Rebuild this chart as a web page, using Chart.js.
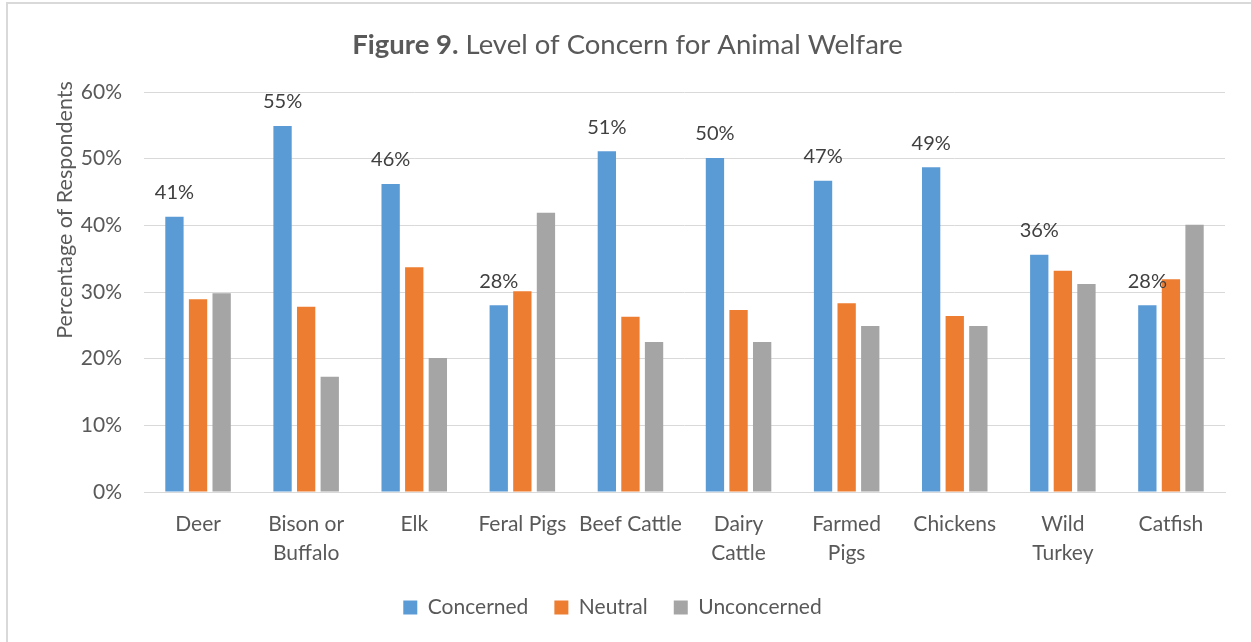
<!DOCTYPE html>
<html>
<head>
<meta charset="utf-8">
<script src="https://cdn.jsdelivr.net/npm/chart.js@4.4.1/dist/chart.umd.min.js"></script>
<style>
  body { margin: 0; background: #fff; }
  #wrap { position: relative; width: 1251px; height: 642px; overflow: hidden; }
  #frame { position: absolute; left: 6px; top: 2px; width: 1300px; height: 700px; border: 2px solid #d9d9d9; pointer-events: none; }
</style>
</head>
<body>
<div id="wrap">
  <canvas id="chart" width="1251" height="642"></canvas>
  <div id="frame"></div>
</div>
<script>
// Data (percent of respondents)
const categories = ['Deer', ['Bison or', 'Buffalo'], 'Elk', 'Feral Pigs', 'Beef Cattle',
  ['Dairy', 'Cattle'], ['Farmed', 'Pigs'], 'Chickens', ['Wild', 'Turkey'], 'Catfish'];
const concerned = [41.3, 54.9, 46.2, 28.0, 51.1, 50.1, 46.7, 48.7, 35.6, 28.0];
const neutral = [28.9, 27.8, 33.7, 30.1, 26.3, 27.3, 28.3, 26.4, 33.2, 31.9];
const unconcerned = [29.8, 17.3, 20.1, 41.9, 22.5, 22.5, 24.9, 24.9, 31.2, 40.1];
const seriesNames = ['Concerned', 'Neutral', 'Unconcerned'];
const yTicks = [0, 10, 20, 30, 40, 50, 60];

const FONT = 'Lato, "Open Sans", sans-serif';
const TEXT = '#595959';

// title with bold "Figure 9." part
const titlePlugin = {
  id: 'mixedTitle',
  afterDraw(chart) {
    const ctx = chart.ctx;
    const bold = 'Figure 9.';
    const rest = ' Level of Concern for Animal Welfare';
    ctx.save();
    ctx.fillStyle = TEXT;
    ctx.textBaseline = 'middle';
    ctx.font = 'bold 27.5px ' + FONT;
    const w1 = ctx.measureText(bold).width;
    ctx.font = '27.5px ' + FONT;
    const w2 = ctx.measureText(rest).width;
    const x0 = chart.width / 2 + 2 - (w1 + w2) / 2;
    ctx.font = 'bold 27.5px ' + FONT;
    ctx.textAlign = 'left';
    ctx.fillText(bold, x0, 45);
    ctx.font = '27.5px ' + FONT;
    ctx.fillText(rest, x0 + w1, 45);

    // y axis title, sits a bit higher than the plot middle
    ctx.translate(65, chart.chartArea.top + 118);
    ctx.rotate(-Math.PI / 2);
    ctx.textAlign = 'center';
    ctx.font = '21.5px ' + FONT;
    ctx.fillText('Percentage of Respondents', 0, 0);
    ctx.restore();
  }
};

// value labels above the Concerned bars
const labelPlugin = {
  id: 'concernLabels',
  afterDatasetsDraw(chart) {
    const ctx = chart.ctx;
    const meta = chart.getDatasetMeta(0);
    ctx.save();
    ctx.fillStyle = '#404040';
    ctx.font = '20px ' + FONT;
    ctx.textAlign = 'center';
    ctx.textBaseline = 'middle';
    meta.data.forEach((bar, i) => {
      ctx.fillText(Math.round(concerned[i]) + '%', bar.x, bar.y - 24);
    });
    ctx.restore();
  }
};

const colors = ['#5b9bd5', '#ed7d31', '#a5a5a5'];
const values = [concerned, neutral, unconcerned];

new Chart(document.getElementById('chart'), {
  type: 'bar',
  data: {
    labels: categories,
    datasets: seriesNames.map((name, i) => ({
      label: name,
      data: values[i],
      backgroundColor: colors[i],
      borderWidth: 0,
      categoryPercentage: 0.655,
      barPercentage: 0.776
    }))
  },
  options: {
    responsive: false,
    animation: false,
    layout: { padding: { left: 0, right: 26, top: 92, bottom: 14 } },
    scales: {
      x: {
        grid: { display: false, drawTicks: false },
        border: { color: '#d9d9d9' },
        ticks: { color: TEXT, font: { family: FONT, size: 21, lineHeight: 1.38 }, padding: 18, maxRotation: 0, autoSkip: false },
        afterFit(scale) { scale.height = 79; }
      },
      y: {
        min: 0,
        max: 60,
        afterBuildTicks(scale) { scale.ticks = yTicks.map(v => ({ value: v })); },
        grid: { color: '#d9d9d9', drawTicks: false },
        border: { display: false },
        ticks: { color: TEXT, font: { family: FONT, size: 21 }, padding: 22, callback: v => v + '%' },
        afterFit(scale) { scale.width = 144; }
      }
    },
    plugins: {
      legend: {
        position: 'bottom',
        labels: { color: TEXT, font: { family: FONT, size: 21 }, boxWidth: 14, boxHeight: 14, padding: 26 }
      },
      tooltip: { enabled: false },
      title: { display: false }
    }
  },
  plugins: [titlePlugin, labelPlugin]
});
</script>
</body>
</html>
